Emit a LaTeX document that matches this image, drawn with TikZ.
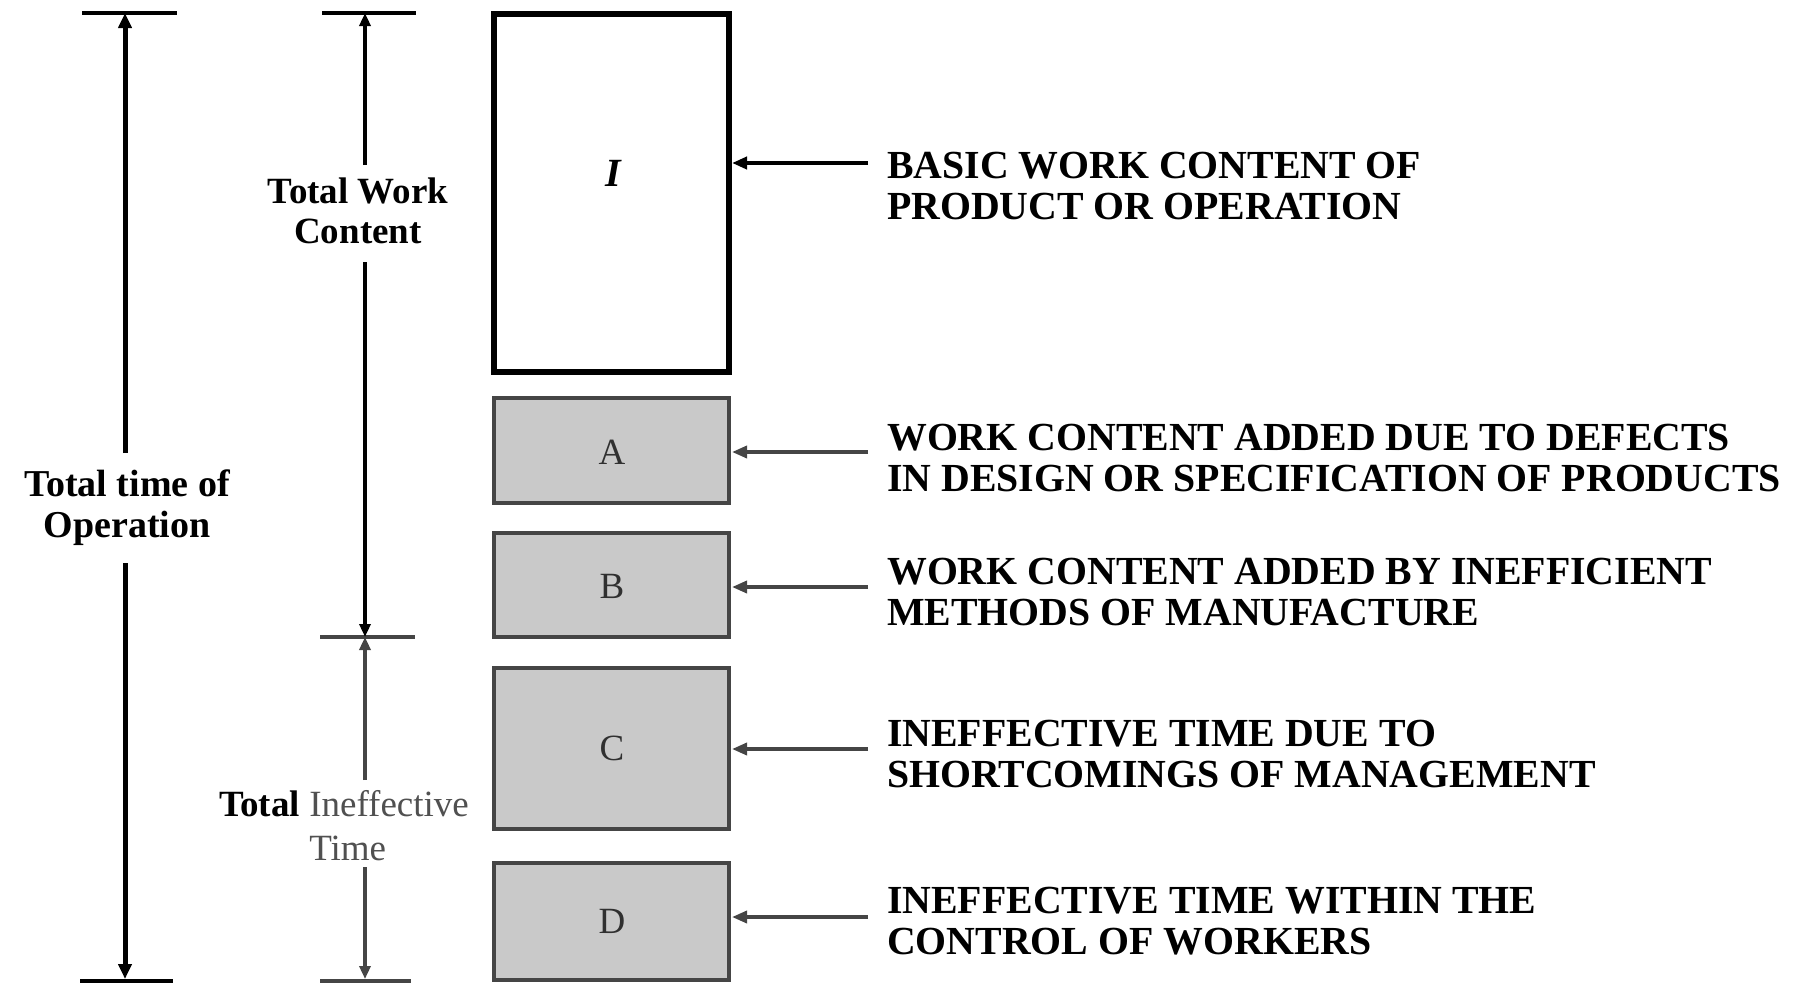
\documentclass[tikz,border=0pt]{standalone}
\usepackage{fontspec}
\setmainfont{Liberation Serif}
\usetikzlibrary{arrows.meta}
\definecolor{boxgray}{HTML}{C9C9C9}
\definecolor{edgegray}{HTML}{454545}
\definecolor{txtgray}{HTML}{505050}
\definecolor{lettergray}{HTML}{303030}
\tikzset{
  dimline/.style={line width=5pt, -{Triangle[length=15pt,width=13pt]}},
  dimthin/.style={line width=3.5pt, -{Triangle[length=13pt,width=11pt]}},
  tickbar/.style={line width=4.5pt},
  whitebox/.style={draw=black, line width=5.5pt, fill=white},
  graybox/.style={draw=edgegray, line width=4.5pt, fill=boxgray},
  boxletter/.style={font=\fontsize{37}{37}\selectfont, text=lettergray},
  pointer/.style={line width=3.5pt, -{Triangle[length=15pt,width=12pt]}},
  desc/.style={anchor=west, align=left, font=\fontsize{39.8}{41}\selectfont\bfseries, inner sep=0pt},
  sidelabel/.style={align=center, font=\fontsize{38}{41}\selectfont\bfseries, inner sep=2pt}
}
\begin{document}
\begin{tikzpicture}[x=1pt,y=-1pt]
\useasboundingbox (0,0) rectangle (1800,983);
% boxes
\draw[whitebox] (494,14) rectangle (729,372);
\node[font=\fontsize{40}{40}\selectfont\bfseries\itshape] (lI) at (613,173) {I};
\draw[graybox] (494,398) rectangle (729,503);
\node[boxletter] (lA) at (612,452) {A};
\draw[graybox] (494,533) rectangle (729,637);
\node[boxletter] (lB) at (612,586) {B};
\draw[graybox] (494,668) rectangle (729,829);
\node[boxletter] (lC) at (612,748) {C};
\draw[graybox] (494,863) rectangle (729,980);
\node[boxletter] (lD) at (612,921) {D};
% box edge coordinates
\coordinate (eI) at (732,163);
\coordinate (eA) at (732,452);
\coordinate (eB) at (732,587);
\coordinate (eC) at (732,749);
\coordinate (eD) at (732,917);
\coordinate (tI) at (868,163);
\coordinate (tA) at (868,452);
\coordinate (tB) at (868,587);
\coordinate (tC) at (868,749);
\coordinate (tD) at (868,917);
\draw[pointer, draw=black, line width=4pt] (tI) -- (eI);
\draw[pointer, draw=edgegray] (tA) -- (eA);
\draw[pointer, draw=edgegray] (tB) -- (eB);
\draw[pointer, draw=edgegray] (tC) -- (eC);
\draw[pointer, draw=edgegray] (tD) -- (eD);
% descriptions
\node[desc] (dI) at (887,186) {BASIC WORK CONTENT OF\\PRODUCT OR OPERATION};
\node[desc] (dA) at (887,458) {WORK CONTENT ADDED DUE TO DEFECTS\\IN DESIGN OR SPECIFICATION OF PRODUCTS};
\node[desc] (dB) at (887,592) {WORK CONTENT ADDED BY INEFFICIENT\\METHODS OF MANUFACTURE};
\node[desc] (dC) at (887,754) {INEFFECTIVE TIME DUE TO\\SHORTCOMINGS OF MANAGEMENT};
\node[desc] (dD) at (887,921) {INEFFECTIVE TIME WITHIN THE\\CONTROL OF WORKERS};
% left dimension: total time of operation
\coordinate (L0) at (125,13);
\coordinate (L1) at (125,979);
\draw[tickbar] (82,13) -- (177,13);
\draw[tickbar] (80,981) -- (173,981);
\node[sidelabel] (tot) at (127,508) {Total time of\\Operation};
\draw[dimline] (125,453) -- (L0);
\draw[dimline] (125,563) -- (L1);
% second dimension: work content / ineffective time
\coordinate (M0) at (365,13);
\coordinate (M1) at (365,637);
\coordinate (M2) at (365,979);
\draw[tickbar, line width=4pt] (322,13) -- (416,13);
\draw[line width=4pt, draw=edgegray] (320,637) -- (415,637);
\draw[line width=4pt, draw=edgegray] (320,981) -- (411,981);
\node[sidelabel, font=\fontsize{37}{40}\selectfont\bfseries] (twc) at (358,211) {Total Work\\Content};
\draw[dimthin] (365,165) -- (M0);
\draw[dimthin] (365,262) -- (M1);
\node[align=left, inner sep=2pt, font=\fontsize{37}{44}\selectfont] (tit) at (344,826)
  {\textbf{Total} \textcolor{txtgray}{Ineffective}\\\hphantom{\textbf{Total} }\textcolor{txtgray}{Time}};
\draw[dimthin, draw=edgegray] (365,780) -- (M1);
\draw[dimthin, draw=edgegray] (365,867) -- (M2);
\end{tikzpicture}
\end{document}
